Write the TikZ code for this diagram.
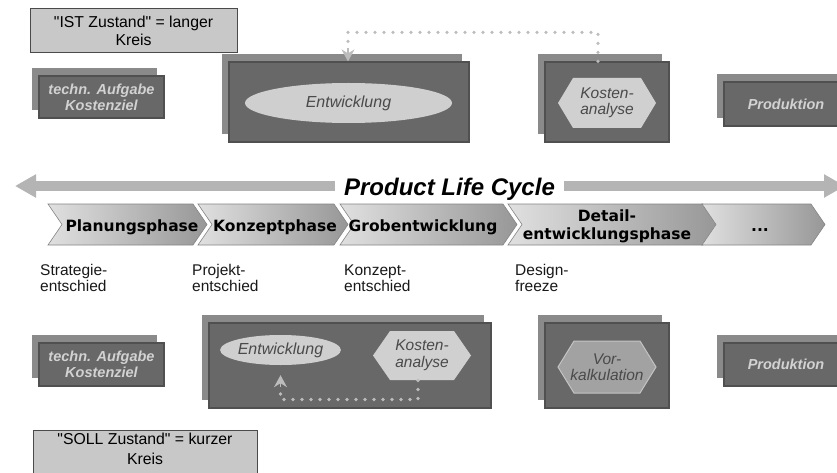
\documentclass[tikz,border=0pt]{standalone}
\usepackage{fontspec}
\setmainfont{Liberation Sans}[Ligatures=TeXOff]
\newfontfamily\phasefont{DejaVu Sans}
\usetikzlibrary{shadows,arrows.meta,calc,shapes.geometric}
\definecolor{lbfill}{HTML}{C8C8C8}
\definecolor{lbborder}{HTML}{4A4A4A}
\definecolor{dbfill}{HTML}{686868}
\definecolor{dbborder}{HTML}{505050}
\definecolor{shadowgray}{HTML}{8A8A8A}
\definecolor{lighttext}{HTML}{D2D2D2}
\definecolor{ellfill}{HTML}{CFCFCF}
\definecolor{darktext}{HTML}{4A4A4A}
\definecolor{hexlight}{HTML}{D0D0D0}
\definecolor{hexmid}{HTML}{A2A2A2}
\definecolor{hexmidborder}{HTML}{C4C4C4}
\definecolor{dotgray}{HTML}{BCBCBC}
\definecolor{plcgray}{HTML}{B4B4B4}
\definecolor{chevleft}{HTML}{E0E0E0}
\definecolor{chevright}{HTML}{979797}
\definecolor{chevborder}{HTML}{858585}
\begin{document}
\begin{tikzpicture}[x=1pt,y=-1pt,
  lightbox/.style={draw=lbborder, fill=lbfill, line width=1pt, align=center, inner sep=0pt, text=black, font=\fontsize{15.8}{18}\selectfont},
  darkbox/.style={draw=dbborder, fill=dbfill, line width=1.2pt, inner sep=0pt, align=center, text=lighttext, font=\bfseries\itshape\fontsize{14.5}{16}\selectfont, general shadow={fill=shadowgray, shadow xshift=-7pt, shadow yshift=8pt}},
  ellnode/.style={ellipse, fill=ellfill, draw=none, inner sep=0pt, text=darktext, font=\itshape\fontsize{16}{18}\selectfont},
  hextext/.style={align=center, inner sep=0pt, text=darktext, font=\itshape\fontsize{15.5}{16.5}\selectfont},
  phase/.style={anchor=base, inner sep=0pt, text=black, font=\phasefont\bfseries\fontsize{15.5}{18}\selectfont},
  milestone/.style={anchor=north west, align=left, inner sep=0pt, text=black!90, font=\fontsize{15.5}{16}\selectfont},
  chev/.style={left color=chevleft, right color=chevright, draw=chevborder, line width=0.6pt},
  dots/.style={draw=dotgray, line width=3.6pt, line cap=round, dash pattern=on 0pt off 9pt},
  dotarrow/.style={draw=dotgray, fill=dotgray, line width=1.5pt, -{Stealth[length=12pt,width=13pt,inset=4pt]}},
  plcarrow/.style={draw=plcgray, line width=10pt, -{Triangle[length=21pt,width=22pt]}},
  plcnode/.style={anchor=base, inner xsep=9pt, inner ysep=0pt, text=black, font=\bfseries\itshape\fontsize{24}{26}\selectfont}
]
\fill[white] (0,0) rectangle (837,473);
\useasboundingbox (0,0) rectangle (837,473);

% ---------- IST ----------
\node[lightbox, minimum width=207, minimum height=44] (ist) at (133.5,31) {"IST Zustand" = langer\\Kreis};

\node[darkbox, minimum width=125, minimum height=42] (ta1) at (101.5,97) {techn. Aufgabe\\Kostenziel};
\node[darkbox, minimum width=240, minimum height=80] (ent1) at (349,102) {};
\node[ellnode, minimum width=207, minimum height=40] (el1) at (348.5,103) {Entwicklung};
\node[darkbox, minimum width=124, minimum height=80] (kb1) at (607,102) {};
\fill[hexlight] (558,103) -- (573,78) -- (641,78) -- (656,103) -- (641,128) -- (573,128) -- cycle;
\node[hextext] (ka1) at (607,103) {Kosten-\\analyse};
\node[darkbox, minimum width=124, minimum height=44] (pr1) at (786,104) {Produktion};

\draw[dots] ($(kb1.north)+(-9,0)$) -- ++(0,-29) -| ($(ent1.north)+(-1,-15)$);
\draw[dotarrow] ($(ent1.north)+(-1,-13)$) -- ($(ent1.north)+(-1,0)$);

% ---------- Product Life Cycle ----------
\coordinate (ltip) at (15,186);
\coordinate (rtip) at (845,186);
\node[plcnode] (plc) at (449.5,196) {Product Life Cycle};
\draw[plcarrow] (plc.west |- ltip) -- (ltip);
\draw[plcarrow] (plc.east |- rtip) -- (rtip);

% ---------- Phases ----------
\foreach \s/\t in {48/207,198/348,340/517,508/717,702/825}{
  \shadedraw[chev] (\s,204) -- (\t-14,204) -- (\t,224.5) -- (\t-14,245) -- (\s,245) -- (\s+14,224.5) -- cycle;
}
\node[phase] (p1) at (132,231) {Planungsphase};
\node[phase] (p2) at (275,231) {Konzeptphase};
\node[phase] (p3) at (423,231) {Grobentwicklung};
\node[phase, anchor=center, align=center] (p4) at (607,226) {Detail-\\entwicklungsphase};
\node[phase] (p5) at (760,231) {...};

\node[milestone] (m1) at (40,264.5) {Strategie-\\entschied};
\node[milestone] (m2) at (192,264.5) {Projekt-\\entschied};
\node[milestone] (m3) at (344,264.5) {Konzept-\\entschied};
\node[milestone] (m4) at (515,264.5) {Design-\\freeze};

% ---------- SOLL ----------
\node[darkbox, minimum width=125, minimum height=43] (ta2) at (101.5,364.5) {techn. Aufgabe\\Kostenziel};
\node[darkbox, minimum width=282, minimum height=85] (ent2) at (350,365.5) {};
\node[ellnode, minimum width=105, minimum height=30] (el2) at (280.5,350) {Entwicklung};
\fill[hexlight] (373,355.5) -- (390,331) -- (454,331) -- (471,355.5) -- (454,380) -- (390,380) -- cycle;
\node[hextext] (ka2) at (422,355.5) {Kosten-\\analyse};
\draw[dots] ($(ka2)+(-4,25)$) -- ++(0,19) -| ($(el2.south)+(0,25)$);
\draw[dotarrow] ($(el2.south)+(0,22)$) -- ($(el2.south)+(0,10)$);

\node[darkbox, minimum width=124, minimum height=85] (vb) at (607,365.5) {};
\filldraw[fill=hexmid, draw=hexmidborder, line width=1pt] (558,367) -- (574,341) -- (640,341) -- (656,367) -- (640,393) -- (574,393) -- cycle;
\node[hextext] (vk) at (607,367) {Vor-\\kalkulation};
\node[darkbox, minimum width=124, minimum height=43] (pr2) at (786,364.5) {Produktion};

\node[lightbox, minimum width=224, minimum height=50] (sollbox) at (145,455) {};
\node[align=center, inner sep=0pt, text=black, font=\fontsize{15.8}{20}\selectfont] (solltext) at (145,449) {"SOLL Zustand" = kurzer\\Kreis};
\end{tikzpicture}
\end{document}
